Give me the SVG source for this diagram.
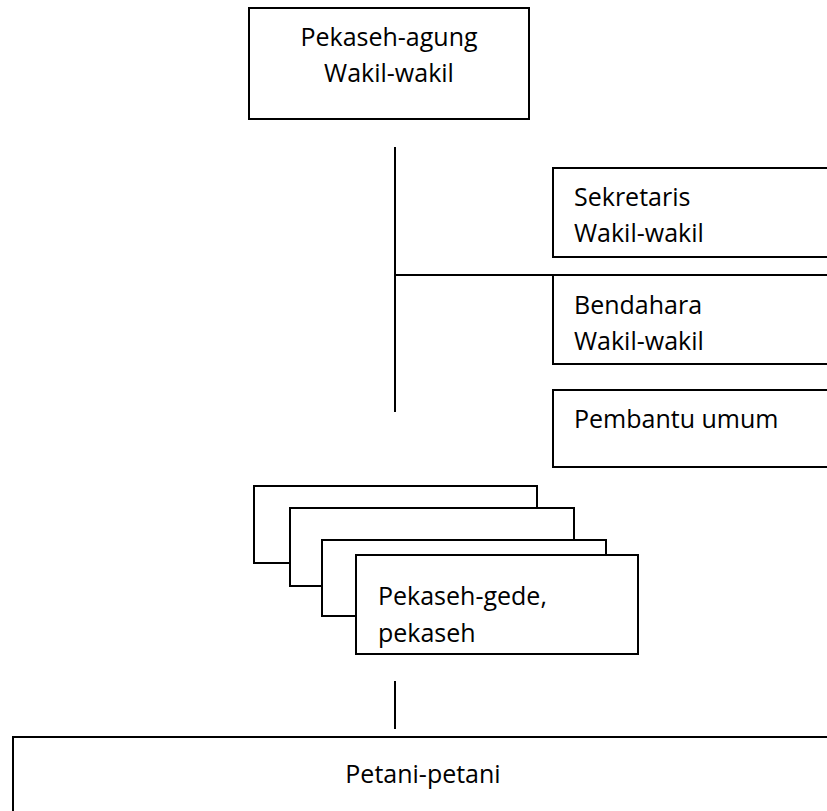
<svg xmlns="http://www.w3.org/2000/svg" width="827" height="811" viewBox="0 0 827 811">
<style>
.box{fill:#fff;stroke:#000;stroke-width:2}
.ln{stroke:#000;stroke-width:2;fill:none}
text{font-family:"Open Sans","Noto Sans","Liberation Sans",sans-serif;font-size:25px;fill:#000}
</style>
<rect width="827" height="811" fill="#fff"/>
<g id="connectors">
<line class="ln" x1="395" y1="147" x2="395" y2="412"/>
<line class="ln" x1="395" y1="275" x2="827" y2="275"/>
<line class="ln" x1="395" y1="681" x2="395" y2="729"/>
</g>
<g id="pekaseh-agung">
<rect class="box" x="249" y="8" width="280" height="111"/>
<text x="389" y="46" text-anchor="middle">Pekaseh-agung</text>
<text x="389" y="82" text-anchor="middle">Wakil-wakil</text>
</g>
<g id="sekretaris">
<rect class="box" x="553" y="168" width="290" height="89"/>
<text x="574" y="206">Sekretaris</text>
<text x="574" y="242">Wakil-wakil</text>
</g>
<g id="bendahara">
<rect class="box" x="553" y="275" width="290" height="89"/>
<text x="574" y="314">Bendahara</text>
<text x="574" y="350">Wakil-wakil</text>
</g>
<g id="pembantu">
<rect class="box" x="553" y="390" width="290" height="77"/>
<text x="574" y="428">Pembantu umum</text>
</g>
<g id="pekaseh-gede">
<rect class="box" x="254" y="486" width="283" height="77"/>
<rect class="box" x="290" y="508" width="284" height="78"/>
<rect class="box" x="322" y="540" width="284" height="76"/>
<rect class="box" x="356" y="555" width="282" height="99"/>
<text x="378" y="605">Pekaseh-gede,</text>
<text x="378" y="642">pekaseh</text>
</g>
<g id="petani">
<rect class="box" x="13" y="737" width="830" height="90"/>
<text x="423" y="783" text-anchor="middle">Petani-petani</text>
</g>
</svg>
